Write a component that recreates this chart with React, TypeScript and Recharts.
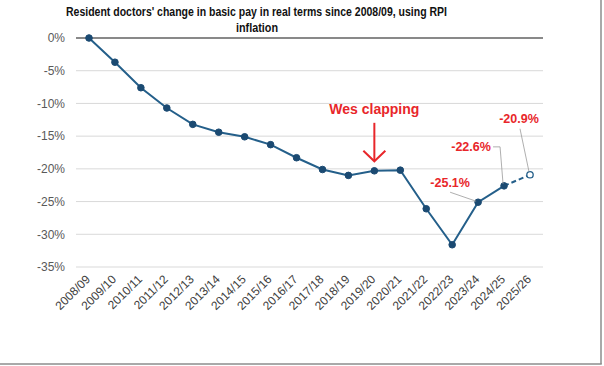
import React from "react";
import {
  LineChart,
  Line,
  XAxis,
  YAxis,
  CartesianGrid,
  ReferenceLine,
  LabelList,
} from "recharts";

const years = [
  "2008/09", "2009/10", "2010/11", "2011/12", "2012/13", "2013/14",
  "2014/15", "2015/16", "2016/17", "2017/18", "2018/19", "2019/20",
  "2020/21", "2021/22", "2022/23", "2023/24", "2024/25", "2025/26",
];

// real-terms change in basic pay (%), RPI deflated
const actual = [
  0, -3.7, -7.6, -10.7, -13.2, -14.4, -15.1, -16.3, -18.3, -20.1, -21.0,
  -20.3, -20.2, -26.1, -31.6, -25.1, -22.6, null,
];
const projected = [
  null, null, null, null, null, null, null, null, null, null, null, null,
  null, null, null, null, -22.6, -20.9,
];

const yTicks = [0, -5, -10, -15, -20, -25, -30, -35];

const data = years.map((year, i) => ({
  year,
  actual: actual[i],
  projected: projected[i],
}));

const RED = "#e8262a";
const LINE = "#245f8a";
const DOT = "#1b4a72";
const LEADER = "#9a9a9a";

const XTick = ({ x, y, payload }: any) => (
  <g transform={`translate(${x + 2},${y + 5})`}>
    <text
      textAnchor="end"
      transform="rotate(-45)"
      fontSize={12}
      fill="#404040"
      fontFamily="'Liberation Sans', Arial, sans-serif"
    >
      {payload.value}
    </text>
  </g>
);

const pctLabel = (v: number) => `${v.toFixed(1)}%`;

// annotations drawn relative to the data point they point at
const ActualNotes = (props: any) => {
  const { x, y, index, value } = props;
  const year = years[index];
  if (year === "2019/20") {
    return (
      <g>
        <text x={x} y={y - 57} textAnchor="middle" fontSize={14} fontWeight="bold" fill={RED}
          fontFamily="'Liberation Sans', Arial, sans-serif">Wes clapping</text>
        <line x1={x} y1={y - 48} x2={x} y2={y - 10} stroke={RED} strokeWidth={2} />
        <polyline points={`${x - 11},${y - 20} ${x},${y - 9.5} ${x + 11},${y - 20}`}
          fill="none" stroke={RED} strokeWidth={2} />
      </g>
    );
  }
  if (year === "2023/24") {
    return (
      <g>
        <line x1={x - 28} y1={y - 10} x2={x - 2} y2={y - 1} stroke={LEADER} strokeWidth={0.8} />
        <text x={x - 28} y={y - 15} textAnchor="middle" fontSize={12.5} fontWeight="bold" fill={RED}
          fontFamily="'Liberation Sans', Arial, sans-serif">{pctLabel(value)}</text>
      </g>
    );
  }
  if (year === "2024/25") {
    return (
      <g>
        <polyline points={`${x - 11},${y - 39} ${x - 4},${y - 39} ${x - 1},${y - 2}`}
          fill="none" stroke={LEADER} strokeWidth={0.8} />
        <text x={x - 33} y={y - 34.5} textAnchor="middle" fontSize={12.5} fontWeight="bold" fill={RED}
          fontFamily="'Liberation Sans', Arial, sans-serif">{pctLabel(value)}</text>
      </g>
    );
  }
  return null;
};

const ProjectedNotes = (props: any) => {
  const { x, y, index, value } = props;
  if (years[index] !== "2025/26") return null;
  return (
    <g>
      <line x1={x - 10} y1={y - 46} x2={x - 1} y2={y - 3} stroke={LEADER} strokeWidth={0.8} />
      <text x={x - 11} y={y - 52} textAnchor="middle" fontSize={12.5} fontWeight="bold" fill={RED}
        fontFamily="'Liberation Sans', Arial, sans-serif">{pctLabel(value)}</text>
    </g>
  );
};

const ProjDot = (props: any) => {
  const { cx, cy, index } = props;
  if (years[index] !== "2025/26") return <g key={`pd-${index}`} />;
  return <circle key={`pd-${index}`} cx={cx} cy={cy} r={3.2} fill="#fff" stroke={LINE} strokeWidth={1.3} />;
};

export default function App() {
  return (
    <div style={{ position: "absolute", left: 0, top: 0, width: 604, height: 366, background: "#fff" }}>
      <LineChart
        width={604}
        height={366}
        data={data}
        margin={{ top: 38, right: 61, bottom: 39, left: 0 }}
      >
        <CartesianGrid vertical={false} stroke="#d9d9d9" />
        <XAxis
          dataKey="year"
          interval={0}
          axisLine={false}
          tickLine={false}
          height={60}
          padding={{ left: 13, right: 13 }}
          tick={<XTick />}
        />
        <YAxis
          width={76}
          domain={[-35, 0]}
          ticks={yTicks}
          axisLine={false}
          tickLine={false}
          tickSize={0}
          tickMargin={11}
          tickFormatter={(v: number) => `${v}%`}
          tick={{ fontSize: 12, fill: "#595959", fontFamily: "'Liberation Sans', Arial, sans-serif" }}
        />
        <ReferenceLine y={0} stroke="#898989" strokeWidth={2} />
        <Line
          dataKey="projected"
          stroke={LINE}
          strokeWidth={2}
          strokeDasharray="5 3"
          dot={<ProjDot />}
          activeDot={false}
          connectNulls={false}
          isAnimationActive={false}
        >
          <LabelList dataKey="projected" content={<ProjectedNotes />} />
        </Line>
        <Line
          dataKey="actual"
          stroke={LINE}
          strokeWidth={2}
          dot={{ r: 3.3, fill: DOT, stroke: DOT, strokeWidth: 1 }}
          activeDot={false}
          isAnimationActive={false}
        >
          <LabelList dataKey="actual" content={<ActualNotes />} />
        </Line>
      </LineChart>
      <svg width={604} height={366} style={{ position: "absolute", left: 0, top: 0, pointerEvents: "none" }}>
        <text x={256.5} y={16} textAnchor="middle" fontSize={12.5} fontWeight="bold" fill="#111"
          fontFamily="'Liberation Sans', Arial, sans-serif" textLength={381} lengthAdjust="spacingAndGlyphs">
          Resident doctors' change in basic pay in real terms since 2008/09, using RPI
        </text>
        <text x={257} y={32} textAnchor="middle" fontSize={12.5} fontWeight="bold" fill="#111"
          fontFamily="'Liberation Sans', Arial, sans-serif" textLength={42} lengthAdjust="spacingAndGlyphs">
          inflation
        </text>
        <line x1={601} y1={0} x2={601} y2={364} stroke="#8c8c8c" strokeWidth={1.5} />
        <line x1={0} y1={364} x2={601.75} y2={364} stroke="#8c8c8c" strokeWidth={1.5} />
      </svg>
    </div>
  );
}
